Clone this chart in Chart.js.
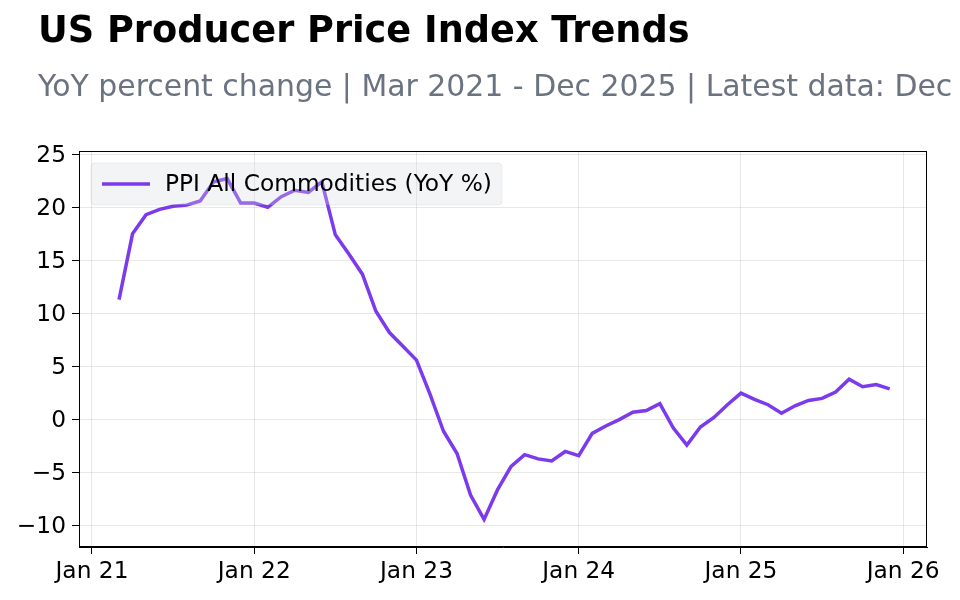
<!DOCTYPE html>
<html>
<head>
<meta charset="utf-8">
<title>US Producer Price Index Trends</title>
<script src="https://cdn.jsdelivr.net/npm/chart.js@4.4.1/dist/chart.umd.min.js"></script>
<style>
  html, body { margin: 0; padding: 0; background: #fff; overflow: hidden; }
  #wrap { position: relative; width: 960px; height: 600px; overflow: hidden; }
  #chart { position: absolute; left: 0; top: 0; }
  #title {
    position: absolute; left: 38px; top: 12px;
    font: bold 36.7px 'DejaVu Sans', sans-serif; line-height: 1;
    white-space: nowrap; color: #000;
  }
  #subtitle {
    position: absolute; left: 38px; top: 71px;
    font: 29.9px 'DejaVu Sans', sans-serif; line-height: 1;
    white-space: nowrap; color: #6b7280;
  }
</style>
</head>
<body>
<div id="wrap">
  <canvas id="chart" width="960" height="600"></canvas>
  <div id="title">US Producer Price Index Trends</div>
  <div id="subtitle">YoY percent change | Mar 2021 - Dec 2025 | Latest data: Dec 2025</div>
</div>
<script>
// --- dados (YoY %, mensal) ---
const firstYear = 2021;
const firstMonth = 3; // marco
const ppi2021 = [11.3, 17.5, 19.3, 19.8, 20.1, 20.2, 20.6, 22.4, 22.7, 20.4];
const ppi2022 = [20.4, 20.0, 21.0, 21.6, 21.4, 22.4, 17.4, 15.6, 13.7, 10.2, 8.2, 6.9];
const ppi2023 = [5.6, 2.4, -1.1, -3.2, -7.1, -9.4, -6.6, -4.4, -3.3, -3.7, -3.9, -3.0];
const ppi2024 = [-3.4, -1.3, -0.6, 0.0, 0.7, 0.85, 1.5, -0.8, -2.4, -0.7, 0.2, 1.4];
const ppi2025 = [2.5, 1.9, 1.4, 0.6, 1.3, 1.8, 2.0, 2.6, 3.8, 3.1, 3.3, 2.9];
const seriesLabel = 'PPI All Commodities (YoY %)';

const xTickLabels = ['Jan 21', 'Jan 22', 'Jan 23', 'Jan 24', 'Jan 25', 'Jan 26'];
const yTicks = [-10, -5, 0, 5, 10, 15, 20, 25];

// x = meses desde jan/2021
const allValues = [].concat(ppi2021, ppi2022, ppi2023, ppi2024, ppi2025);
const points = allValues.map((v, i) => ({ x: (firstMonth - 1) + i, y: v }));
const xTickValues = xTickLabels.map(l => (2000 + parseInt(l.slice(4), 10) - firstYear) * 12);

const lineColor = '#7c3aed';
const gridColor = 'rgba(0,0,0,0.09)';
const tickFont = { family: 'DejaVu Sans', size: 23.3 };

// moldura + legenda dentro da area do grafico (por cima da linha)
const frameLegend = {
  id: 'frameLegend',
  afterDatasetsDraw(chart) {
    const { ctx, chartArea: a } = chart;
    ctx.save();
    ctx.strokeStyle = '#000';
    ctx.lineWidth = 1;
    ctx.strokeRect(Math.round(a.left) + 0.5, Math.round(a.top) + 0.5,
      Math.round(a.right - a.left) - 1, Math.round(a.bottom - a.top) - 1);

    ctx.font = '23.3px "DejaVu Sans"';
    const textW = ctx.measureText(seriesLabel).width;
    const bx = a.left + 12, by = a.top + 12, bh = 42;
    const bw = 74 + textW + 10;
    ctx.beginPath();
    ctx.roundRect(bx, by, bw, bh, 4);
    ctx.fillStyle = 'rgba(215,219,226,0.3)';
    ctx.fill();
    ctx.strokeStyle = 'rgba(0,0,0,0.06)';
    ctx.stroke();

    const cy = by + bh / 2;
    ctx.beginPath();
    ctx.moveTo(bx + 11, cy);
    ctx.lineTo(bx + 59, cy);
    ctx.strokeStyle = lineColor;
    ctx.lineWidth = 3.5;
    ctx.stroke();

    ctx.fillStyle = '#000';
    ctx.textBaseline = 'middle';
    ctx.fillText(seriesLabel, bx + 74, cy + 1);
    ctx.restore();
  }
};

new Chart(document.getElementById('chart'), {
  type: 'line',
  data: {
    datasets: [{
      label: seriesLabel,
      data: points,
      borderColor: lineColor,
      borderWidth: 3.5,
      pointRadius: 0,
      tension: 0,
      fill: false
    }]
  },
  options: {
    responsive: false,
    animation: false,
    devicePixelRatio: 1,
    layout: { padding: { left: 0, top: 151, right: 33, bottom: 0 } },
    plugins: { legend: { display: false }, tooltip: { enabled: false } },
    scales: {
      x: {
        type: 'linear',
        min: -0.96,
        max: 61.76,
        afterBuildTicks: s => { s.ticks = xTickValues.map(v => ({ value: v })); },
        afterFit: s => { s.height = 53; },
        grid: { color: gridColor, tickColor: '#000', tickLength: 7 },
        border: { display: true, color: '#000', width: 1 },
        ticks: {
          font: tickFont, color: '#000', padding: 4, maxRotation: 0, autoSkip: false,
          callback: v => xTickLabels[xTickValues.indexOf(v)]
        }
      },
      y: {
        min: -12.0,
        max: 25.3,
        afterBuildTicks: s => { s.ticks = yTicks.map(v => ({ value: v })); },
        afterFit: s => { s.width = 79; },
        grid: { color: gridColor, tickColor: '#000', tickLength: 7 },
        border: { display: true, color: '#000', width: 1 },
        ticks: {
          font: tickFont, color: '#000', padding: 6, labelOffset: 1.5,
          callback: v => String(v).replace('-', '\u2212')
        }
      }
    }
  },
  plugins: [frameLegend]
});
</script>
</body>
</html>
